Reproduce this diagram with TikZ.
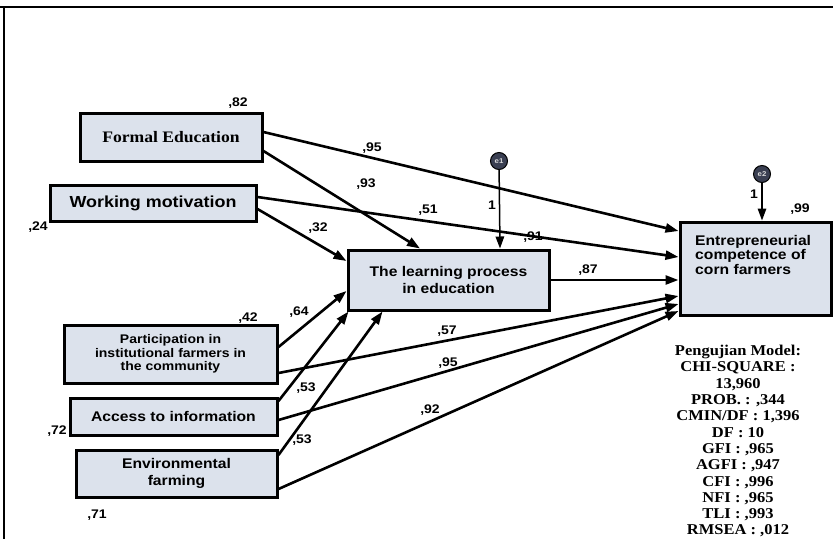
\documentclass[tikz,border=0pt]{standalone}
\usepackage{fontspec}
\setmainfont{Liberation Serif}[FakeStretch=1.1]
\newfontfamily\arialfont{Liberation Sans}[FakeStretch=1.12]
\usetikzlibrary{arrows.meta,calc}
\definecolor{boxfill}{HTML}{DCE2EC}
\definecolor{errfill}{HTML}{3A3F52}
\begin{document}
\begin{tikzpicture}[x=1pt,y=-1pt,
  var/.style={draw=black, line width=3pt, fill=boxfill, inner sep=0pt, align=center,
    font=\arialfont\bfseries\fontsize{14}{16.5}\selectfont},
  reg/.style={line width=2.6pt, -{Triangle[length=13pt,width=9pt]}},
  coef/.style={font=\arialfont\bfseries\fontsize{12.5}{14}\selectfont, inner sep=0pt},
  err/.style={circle, draw=black, line width=1pt, fill=errfill, minimum size=17pt, inner sep=0pt,
    font=\arialfont\bfseries\fontsize{7}{7}\selectfont, text=gray!30},
  fit/.style={align=center, inner sep=0pt, font=\rmfamily\bfseries\fontsize{15}{16.3}\selectfont}
  ]
\useasboundingbox (0,0) rectangle (833,539);

% frame
\draw[line width=2pt] (0,7) -- (833,7);
\draw[line width=2pt] (4,7) -- (4,539);

% observed variables
\node[var, minimum width=182, minimum height=48, font=\rmfamily\bfseries\fontsize{16}{18}\selectfont] (fe) at (171,137) {Formal Education};
\node[var, minimum width=206, minimum height=36, font=\arialfont\bfseries\fontsize{16}{18}\selectfont] (wm) at (153,203) {Working motivation};
\node[var, minimum width=213, minimum height=58, font=\arialfont\bfseries\fontsize{12.5}{13.3}\selectfont] (pa) at (170.5,354) {Participation in\\institutional farmers in\\the community};
\node[var, minimum width=207, minimum height=37] (ai) at (173.5,416.5) {Access to information};
\node[var, minimum width=201, minimum height=47, font=\arialfont\bfseries\fontsize{14}{17}\selectfont] (ef) at (176.5,473.5) {Environmental\\farming};
\node[var, minimum width=201, minimum height=60] (lp) at (448.5,280) {The learning process\\in education};
\node[var, minimum width=151, minimum height=93] (ec) at (755.5,268.5) {};
\node[anchor=north west, align=left, inner sep=0pt, font=\arialfont\bfseries\fontsize{14}{14.5}\selectfont] (ectext) at (695,235) {Entrepreneurial\\competence of\\corn farmers};

% error terms
\node[err] (e1) at (499,161) {e1};
\node[err] (e2) at (762,174) {e2};

% regression paths
\draw[reg] ([yshift=5pt]fe.east) -- ([yshift=37.5pt]ec.west);
\draw[reg] ([yshift=-14pt]fe.east) -- ([xshift=-28.5pt]lp.north);
\draw[reg] ([yshift=6pt]wm.east) -- ([yshift=11.5pt]ec.west);
\draw[reg] ([yshift=-6pt]wm.east) -- ([yshift=19pt]lp.west);
\draw[reg] ([yshift=7pt]pa.east) -- ([yshift=-11pt]lp.west);
\draw[reg] ([yshift=-19pt]pa.east) -- ([yshift=-27.5pt]ec.west);
\draw[reg] ([yshift=15.5pt]ai.east) -- ([xshift=2pt]lp.south west);
\draw[reg] ([yshift=-3.5pt]ai.east) -- ([yshift=-35.5pt]ec.west);
\draw[reg] ([yshift=18.5pt]ef.east) -- ([xshift=36pt]lp.south west);
\draw[reg] ([yshift=-15.5pt]ef.east) -- ([yshift=-42.5pt]ec.west);
\draw[reg] (lp.east) -- ([yshift=-11.5pt]ec.west);
\draw[line width=1.5pt, -{Triangle[length=12pt,width=8.5pt]}] (e1) -- ([xshift=51.5pt]lp.north);
\draw[line width=1.5pt, -{Triangle[length=12pt,width=8.5pt]}] (e2) -- ([xshift=6.5pt]ec.north);

% estimates
\node[coef] (c82) at (238,103) {,82};
\node[coef] (c24) at (38,227) {,24};
\node[coef] (c95a) at (372,148) {,95};
\node[coef] (c93) at (366,184) {,93};
\node[coef] (c51) at (428,210) {,51};
\node[coef] (c32) at (318,228) {,32};
\node[coef] (c91) at (533,237) {,91};
\node[coef] (c99) at (800,209) {,99};
\node[coef] (c87) at (588,270) {,87};
\node[coef] (c64) at (299,312) {,64};
\node[coef] (c42) at (248,318) {,42};
\node[coef] (c57) at (447,331) {,57};
\node[coef] (c95b) at (448,363) {,95};
\node[coef] (c53a) at (306,388) {,53};
\node[coef] (c72) at (57,431) {,72};
\node[coef] (c53b) at (302,440) {,53};
\node[coef] (c92) at (430,410) {,92};
\node[coef] (c71) at (97,515) {,71};
\node[coef] (one1) at (492,205) {1};
\node[coef] (one2) at (754,194) {1};

% model fit summary
\node[fit, anchor=north] (fitstats) at (738,345) {Pengujian Model:\\CHI-SQUARE :\\13,960\\PROB. : ,344\\CMIN/DF : 1,396\\DF : 10\\GFI : ,965\\AGFI : ,947\\CFI : ,996\\NFI : ,965\\TLI : ,993\\RMSEA : ,012};
\end{tikzpicture}
\end{document}
